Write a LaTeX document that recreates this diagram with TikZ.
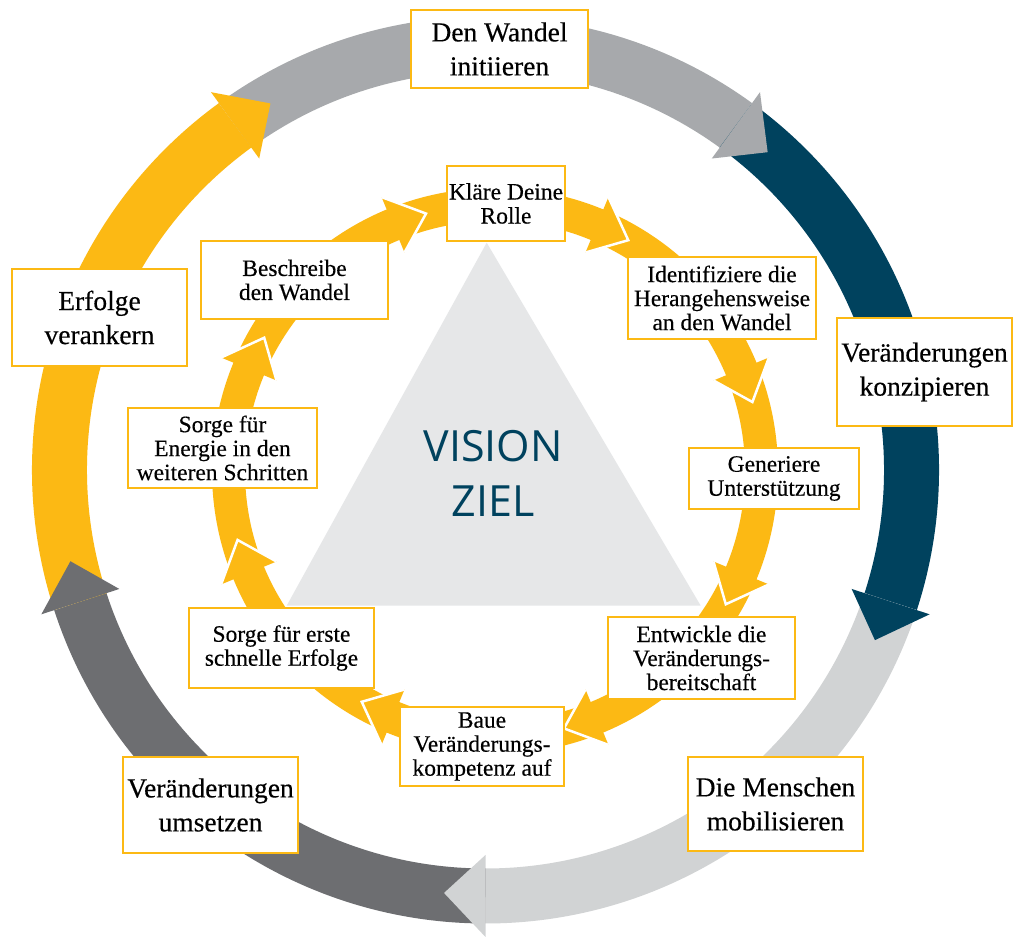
\documentclass[tikz,border=0pt]{standalone}
\usepackage{fontspec}
\setmainfont{Liberation Serif}
\newfontfamily\boxfont{Liberation Serif}[FakeBold=0.35]
\newfontfamily\visionfont{Open Sans}

\definecolor{ringyellow}{RGB}{252,185,20}
\definecolor{ringgray}{RGB}{167,169,172}
\definecolor{ringblue}{RGB}{0,66,94}
\definecolor{ringlight}{RGB}{209,211,212}
\definecolor{ringdark}{RGB}{109,110,113}
\definecolor{visionfill}{RGB}{230,231,232}

\tikzset{
	outerbox/.style={font=\boxfont\fontsize{27.5}{34}\selectfont, draw=ringyellow, line width=2pt, fill=white, align=center, inner sep=1pt, minimum width=175pt}
}
\tikzset{
	innerbox/.style={font=\boxfont\fontsize{23.5}{24}\selectfont, draw=ringyellow, line width=2pt, fill=white, align=center, inner sep=1pt}
}
\tikzset{
	headgap/.style={white, line width=2.5pt, line join=miter}
}

\begin{document}
\begin{tikzpicture}[x=1pt, y=1pt]
			\tikzset{
				visiontext/.style={
						font=\visionfont\fontsize{43}{55}\selectfont,
						text=ringblue,
						align=center
					}
			}

			\useasboundingbox (0,0) rectangle (1015,940);
			\fill[white] (0,0) rectangle (1015,940);

			\fill[visionfill] (486.7,697.3) -- (286.7,334.3) -- (700.7,334.3) -- cycle;

			% outer cycle
			\begin{scope}[shift={(485.5,470)}]
				\draw[ringgray, line width=55pt] (126:426) arc[start angle=126, end angle=54, radius=426];
				\draw[ringblue, line width=55pt] (54:426) arc[start angle=54, end angle=-18, radius=426];
				\draw[ringlight, line width=55pt] (-18:426) arc[start angle=-18, end angle=-90, radius=426];
				\draw[ringdark, line width=55pt] (-90:426) arc[start angle=-90, end angle=-162, radius=426];
				\draw[ringyellow, line width=55pt] (198:426) arc[start angle=198, end angle=126, radius=426];

				\fill[ringyellow] (126:467) -- (120.4:425) -- (126:385) -- cycle;
				\fill[ringgray] (54:467) -- (48.4:425) -- (54:385) -- cycle;
				\fill[ringblue] (-18:467) -- (-23.6:425) -- (-18:385) -- cycle;
				\fill[ringlight] (-90:467) -- (-95.6:425) -- (-90:385) -- cycle;
				\fill[ringdark] (-162:467) -- (-167.6:425) -- (-162:385) -- cycle;
			\end{scope}

			% inner cycle
			\begin{scope}[shift={(495,469)}]
				\draw[ringyellow, line width=33pt] (0,0) circle[radius=266.5];

				\fill[ringyellow] (112.5:296.5) -- (105:266.5) -- (112.5:236.5) -- cycle;
				\draw[headgap] (112.5:296.5) -- (105:266.5) -- (112.5:236.5);
				\fill[ringyellow] (67.5:296.5) -- (60:266.5) -- (67.5:236.5) -- cycle;
				\draw[headgap] (67.5:296.5) -- (60:266.5) -- (67.5:236.5);
				\fill[ringyellow] (22.5:296.5) -- (15:266.5) -- (22.5:236.5) -- cycle;
				\draw[headgap] (22.5:296.5) -- (15:266.5) -- (22.5:236.5);
				\fill[ringyellow] (-22.5:296.5) -- (-30:266.5) -- (-22.5:236.5) -- cycle;
				\draw[headgap] (-22.5:296.5) -- (-30:266.5) -- (-22.5:236.5);
				\fill[ringyellow] (-67.5:296.5) -- (-75:266.5) -- (-67.5:236.5) -- cycle;
				\draw[headgap] (-67.5:296.5) -- (-75:266.5) -- (-67.5:236.5);
				\fill[ringyellow] (-112.5:296.5) -- (-120:266.5) -- (-112.5:236.5) -- cycle;
				\draw[headgap] (-112.5:296.5) -- (-120:266.5) -- (-112.5:236.5);
				\fill[ringyellow] (-157.5:296.5) -- (-165:266.5) -- (-157.5:236.5) -- cycle;
				\draw[headgap] (-157.5:296.5) -- (-165:266.5) -- (-157.5:236.5);
				\fill[ringyellow] (157.5:296.5) -- (150:266.5) -- (157.5:236.5) -- cycle;
				\draw[headgap] (157.5:296.5) -- (150:266.5) -- (157.5:236.5);
			\end{scope}

			\node[visiontext] (v) at (493,466.5) {VISION\\ZIEL};

			\node[outerbox, minimum width=177pt, minimum height=78pt] (o1) at (499.5,891) {Den Wandel\\initiieren};
			\node[outerbox, minimum height=108pt] (o2) at (924.5,568) {Veränderungen\\konzipieren};
			\node[outerbox, minimum height=94pt] (o3) at (775.5,136) {Die Menschen\\mobilisieren};
			\node[outerbox, minimum height=96pt] (o4) at (210.5,135) {Veränderungen\\umsetzen};
			\node[outerbox, minimum height=97pt] (o5) at (99.5,622.5) {Erfolge\\verankern};

			\node[innerbox, minimum width=118pt, minimum height=75pt] (i1) at (506,736.5) {Kläre Deine\\Rolle};
			\node[innerbox, minimum width=188pt, minimum height=82pt] (i2) at (722,642) {Identifiziere die\\Herangehensweise\\an den Wandel};
			\node[innerbox, minimum width=170pt, minimum height=61pt] (i3) at (774,461.5) {Generiere\\Unterstützung};
			\node[innerbox, minimum width=187pt, minimum height=82pt] (i4) at (701.5,282) {Entwickle die\\Veränderungs-\\bereitschaft};
			\node[innerbox, minimum width=164pt, minimum height=79pt] (i5) at (482,193.5) {Baue\\Veränderungs-\\kompetenz auf};
			\node[innerbox, minimum width=185pt, minimum height=80pt] (i6) at (281.5,292) {Sorge für erste\\schnelle Erfolge};
			\node[innerbox, minimum width=189pt, minimum height=80pt] (i7) at (222.5,492) {Sorge für\\Energie in den\\weiteren Schritten};
			\node[innerbox, minimum width=187pt, minimum height=78pt] (i8) at (294.5,660) {Beschreibe\\den Wandel};
		\end{tikzpicture}
\end{document}
